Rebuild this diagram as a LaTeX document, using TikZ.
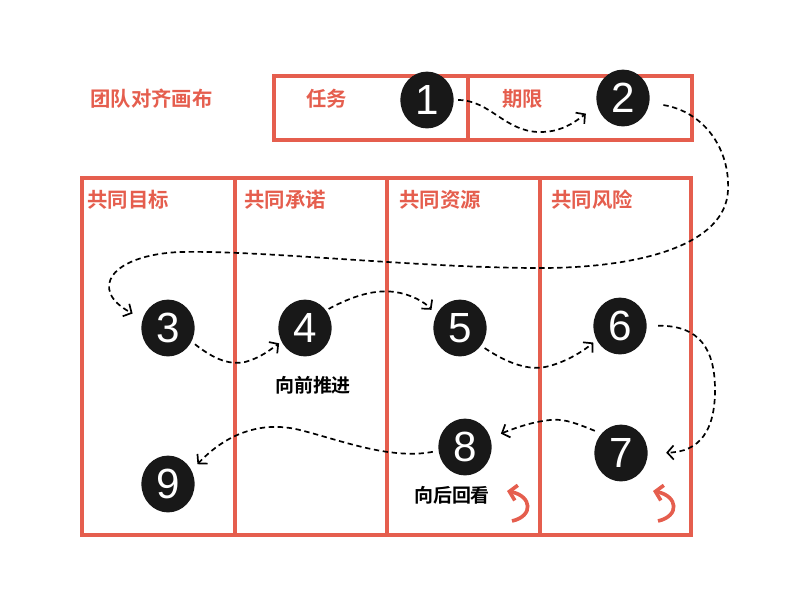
\documentclass[tikz,border=0pt]{standalone}
\usepackage{fontspec}
\newfontfamily\cjk{Noto Sans CJK SC}[BoldFont={Noto Sans CJK SC Bold}]
\newfontfamily\numfont{Liberation Sans}
\usetikzlibrary{shapes.geometric,arrows.meta}
\definecolor{canvasred}{RGB}{229,94,78}
\definecolor{dotblack}{RGB}{24,24,24}

\begin{document}
\begin{tikzpicture}[x=0.025cm,y=-0.025cm]
  \tikzstyle{frame}=[draw=canvasred,line width=2.8pt]
  \tikzstyle{num}=[ellipse,fill=dotblack,text=white,minimum width=1.33cm,minimum height=1.42cm,inner sep=0pt,font=\numfont\fontsize{30}{30}\selectfont]
  \tikzstyle{head}=[anchor=west,inner sep=0pt,text=canvasred,font=\cjk\bfseries\fontsize{14.5}{16}\selectfont]
  \tikzstyle{note}=[inner sep=0pt,text=black,font=\cjk\bfseries\fontsize{13.5}{16}\selectfont]
  \tikzstyle{flow}=[dashed,dash pattern=on 3.8pt off 2.6pt,line width=1.2pt,-{Straight Barb[length=4.5pt,width=10pt]}]
  \tikzstyle{turn}=[draw=canvasred,line width=2.6pt,-{Straight Barb[length=5pt,width=11pt]}]
  \useasboundingbox (0,0) rectangle (800,600);
  \draw[frame] (274,76) rectangle (692,140);
  \draw[frame] (468,76) -- (468,140);
  \draw[frame] (82,178) rectangle (691,535);
  \foreach \x in {235,387,540} {\draw[frame] (\x,178) -- (\x,535);}
  \node[head] (title) at (90,99) {团队对齐画布};
  \node[head] (task) at (306,99) {任务};
  \node[head] (term) at (502,99) {期限};
  \node[head] (goal) at (87,200) {共同目标};
  \node[head] (promise) at (244,200) {共同承诺};
  \node[head] (resource) at (399,200) {共同资源};
  \node[head] (risk) at (551,200) {共同风险};
  \node[num] (n1) at (427,100) {1};
  \node[num] (n2) at (623,98) {2};
  \node[num] (n3) at (168,328) {3};
  \node[num] (n4) at (305,328) {4};
  \node[num] (n5) at (460,328) {5};
  \node[num] (n6) at (620,326) {6};
  \node[num] (n7) at (621,453) {7};
  \node[num] (n8) at (465,447) {8};
  \node[num] (n9) at (168,484) {9};
  \node[note] (fwd) at (313,385) {向前推进};
  \node[note] (back) at (452,495) {向后回看};
  \draw[flow,shorten <=3pt,shorten >=10pt] (n1.east) .. controls (490,100) and (505,132) .. (540,132) .. controls (558,132) and (570,126) .. (n2.195);
  \draw[flow,shorten <=10pt,shorten >=8pt] (n2.-10) .. controls (705,112) and (730,150) .. (728,190) .. controls (726,245) and (640,268) .. (540,268) .. controls (420,268) and (260,250) .. (180,252) .. controls (110,255) and (88,290) .. (n3.160);
  \draw[flow,shorten <=3pt,shorten >=2pt] (n3.-30) .. controls (215,360) and (230,365) .. (245,362) .. controls (260,358) and (270,350) .. (n4.210);
  \draw[flow,shorten <=2pt,shorten >=5pt] (n4.40) .. controls (360,292) and (380,290) .. (395,292) .. controls (410,294) and (425,302) .. (n5.152);
  \draw[flow,shorten <=3pt,shorten >=3pt] (n5.-40) .. controls (510,365) and (530,370) .. (545,367) .. controls (565,363) and (585,350) .. (n6.210);
  \draw[flow,shorten <=8pt,shorten >=13pt] (n6.east) .. controls (700,325) and (715,350) .. (715,390) .. controls (715,430) and (700,452) .. (n7.east);
  \draw[flow,shorten <=5pt,shorten >=8pt] (n7.135) .. controls (580,425) and (565,418) .. (550,420) .. controls (530,422) and (510,430) .. (n8.20);
  \draw[flow,shorten <=4pt,shorten >=6pt] (n8.188) .. controls (390,460) and (340,440) .. (300,430) .. controls (260,420) and (225,435) .. (n9.30);
  \draw[turn] (512,521) .. controls (534,516) and (532,496) .. (507,491);
  \draw[turn] (658,521) .. controls (680,516) and (678,496) .. (653,491);
\end{tikzpicture}
\end{document}
